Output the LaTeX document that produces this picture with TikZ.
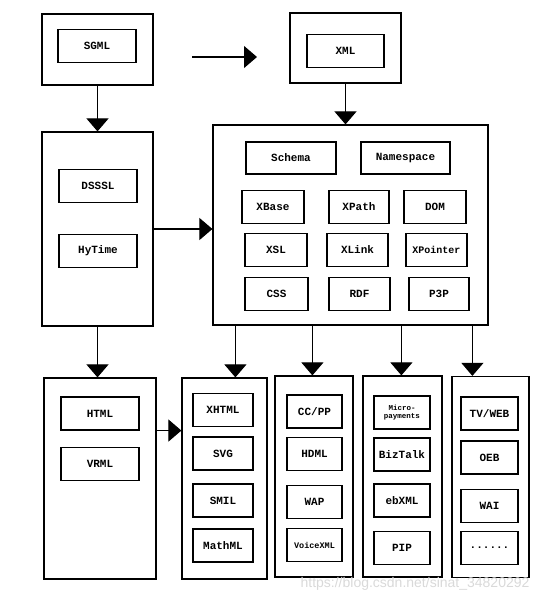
\documentclass[tikz,border=0pt]{standalone}
\usepackage{fontspec}
\setmonofont{Liberation Mono}
\setsansfont{Liberation Sans}
\usetikzlibrary{arrows.meta}
\begin{document}
\begin{tikzpicture}[x=1pt, y=-1pt,
  outer/.style={draw, line width=1.2pt, inner sep=0pt},
  item/.style={draw, line width=1.1pt, inner sep=0pt, minimum height=33pt,
    font=\ttfamily\bfseries\fontsize{11}{12}\selectfont, align=center},
  arr/.style={line width=1.1pt, -{Triangle[width=22pt,length=13pt]}}]
  \useasboundingbox (0,0) rectangle (554,603);
  % SGML and XML
  \node[outer, minimum width=111pt, minimum height=71pt] (sgmlbox) at (97.5,49.5) {};
  \node[item, minimum width=78pt] (sgml) at (97,46) {SGML};
  \node[outer, minimum width=111pt, minimum height=70pt] (xmlbox) at (345.5,48) {};
  \node[item, minimum width=77pt] (xml) at (345.5,51) {XML};
  \coordinate (t1) at (192,57);
  \coordinate (t2) at (257,57);
  \draw[arr] (t1) -- (t2);
  % DSSSL / HyTime
  \node[outer, minimum width=111pt, minimum height=194pt] (dssslbox) at (97.5,229) {};
  \node[item, minimum width=78pt] (dsssl) at (98,186) {DSSSL};
  \node[item, minimum width=78pt] (hytime) at (98,251) {HyTime};
  % XML family
  \node[outer, minimum width=275pt, minimum height=200pt] (bigbox) at (350.5,225) {};
  \node[item, minimum width=90pt, minimum height=32pt] (schema) at (291,158) {Schema};
  \node[item, minimum width=89pt, minimum height=32pt] (namespace) at (405.5,158) {Namespace};
  \node[item, minimum width=62pt] (xbase) at (273,207) {XBase};
  \node[item, minimum width=60pt] (xpath) at (359,207) {XPath};
  \node[item, minimum width=62pt] (dom) at (435,207) {DOM};
  \node[item, minimum width=62pt] (xsl) at (276,250) {XSL};
  \node[item, minimum width=61pt] (xlink) at (357.5,250) {XLink};
  \node[item, minimum width=61pt, font=\ttfamily\bfseries\fontsize{10}{11}\selectfont] (xpointer) at (436.5,250) {XPointer};
  \node[item, minimum width=63pt] (css) at (276.5,294) {CSS};
  \node[item, minimum width=61pt] (rdf) at (359.5,294) {RDF};
  \node[item, minimum width=60pt] (ppp) at (439,294) {P3P};
  % HTML / VRML
  \node[outer, minimum width=112pt, minimum height=201pt] (htmlbox) at (100,478.5) {};
  \node[item, minimum width=78pt] (html) at (100,413.5) {HTML};
  \node[item, minimum width=78pt] (vrml) at (100,464) {VRML};
  % applications
  \node[outer, minimum width=85pt, minimum height=201pt] (xhtmlcol) at (224.5,478.5) {};
  \node[item, minimum width=60pt] (xhtml) at (223,410) {XHTML};
  \node[item, minimum width=60pt] (svg) at (223,453.5) {SVG};
  \node[item, minimum width=60pt] (smil) at (223,500.5) {SMIL};
  \node[item, minimum width=60pt] (mathml) at (223,545.5) {MathML};
  \node[outer, minimum width=78pt, minimum height=201pt] (cccol) at (314,476.5) {};
  \node[item, minimum width=55pt] (ccpp) at (314.5,411.5) {CC/PP};
  \node[item, minimum width=55pt] (hdml) at (314.5,454) {HDML};
  \node[item, minimum width=55pt] (wap) at (314.5,502) {WAP};
  \node[item, minimum width=55pt, font=\ttfamily\bfseries\fontsize{8.5}{10}\selectfont] (voicexml) at (314.5,545) {VoiceXML};
  \node[outer, minimum width=79pt, minimum height=201pt] (microcol) at (402.5,476.5) {};
  \node[item, minimum width=56pt, font=\ttfamily\bfseries\fontsize{7.5}{8.5}\selectfont] (micro) at (402,412.5) {Micro-\\payments};
  \node[item, minimum width=56pt] (biztalk) at (402,454.5) {BizTalk};
  \node[item, minimum width=56pt] (ebxml) at (402,500.5) {ebXML};
  \node[item, minimum width=56pt] (pip) at (402,548) {PIP};
  \node[outer, minimum width=77pt, minimum height=201pt] (tvcol) at (490.5,477) {};
  \node[item, minimum width=57pt] (tvweb) at (489.5,413.5) {TV/WEB};
  \node[item, minimum width=57pt] (oeb) at (489.5,457.5) {OEB};
  \node[item, minimum width=57pt] (wai) at (489.5,506) {WAI};
  \node[item, minimum width=57pt] (more) at (489.5,548) {......};
  % connectors
  \draw[arr] (sgmlbox.south) -- (dssslbox.north);
  \draw[arr] (xmlbox.south) -- (xmlbox.south |- bigbox.north);
  \draw[arr] (dssslbox.east) -- (dssslbox.east -| bigbox.west);
  \draw[arr] (dssslbox.south) -- (dssslbox.south |- htmlbox.north);
  \draw[arr] (htmlbox.east |- html.south) -- (htmlbox.east |- html.south -| xhtmlcol.west);
  \coordinate (o1) at ([xshift=23pt]bigbox.south west);
  \coordinate (o2) at ([xshift=100pt]bigbox.south west);
  \coordinate (o3) at ([xshift=189pt]bigbox.south west);
  \coordinate (o4) at ([xshift=260pt]bigbox.south west);
  \draw[arr] (o1) -- (o1 |- xhtmlcol.north);
  \draw[arr] (o2) -- (o2 |- cccol.north);
  \draw[arr] (o3) -- (o3 |- microcol.north);
  \draw[arr] (o4) -- (o4 |- tvcol.north);
  % watermark
  \node[text=gray!30, font=\sffamily\fontsize{14}{16}\selectfont] (mark) at (415,584) {https://blog.csdn.net/sinat\_34820292};
\end{tikzpicture}
\end{document}
